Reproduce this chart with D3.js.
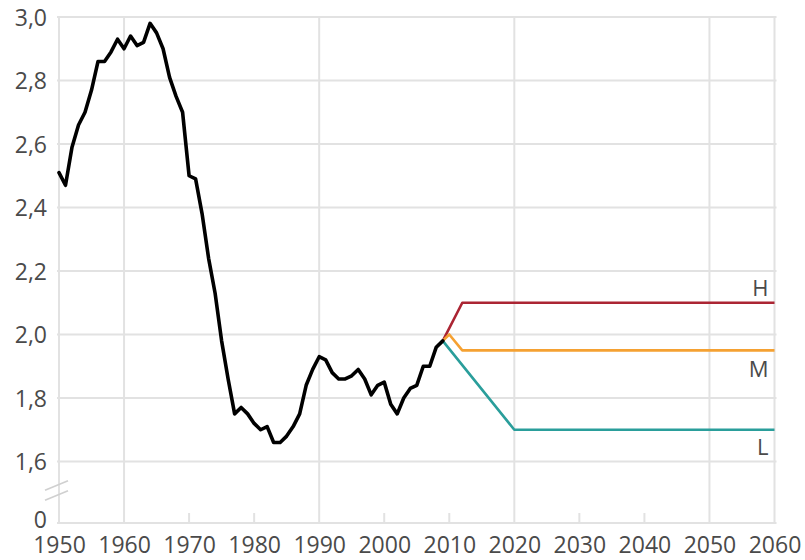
<!DOCTYPE html>
<html>
<head>
<meta charset="utf-8">
<script src="https://cdn.jsdelivr.net/npm/d3@7"></script>
<style>
  html, body { margin: 0; padding: 0; background: #fff; }
  svg { display: block; }
  .tick text { font-family: "Open Sans", sans-serif; fill: #4a4a4a; }
</style>
</head>
<body>
<div id="chart"></div>
<script>
// Fertility rate, history and projections (H / M / L)
var histYears = [1950, 1951, 1952, 1953, 1954, 1955, 1956, 1957, 1958, 1959,
                 1960, 1961, 1962, 1963, 1964, 1965, 1966, 1967, 1968, 1969,
                 1970, 1971, 1972, 1973, 1974, 1975, 1976, 1977, 1978, 1979,
                 1980, 1981, 1982, 1983, 1984, 1985, 1986, 1987, 1988, 1989,
                 1990, 1991, 1992, 1993, 1994, 1995, 1996, 1997, 1998, 1999,
                 2000, 2001, 2002, 2003, 2004, 2005, 2006, 2007, 2008, 2009];
var histValues = [2.51, 2.47, 2.59, 2.66, 2.70, 2.77, 2.86, 2.86, 2.89, 2.93,
                  2.90, 2.94, 2.91, 2.92, 2.98, 2.95, 2.90, 2.81, 2.75, 2.70,
                  2.50, 2.49, 2.38, 2.24, 2.13, 1.98, 1.86, 1.75, 1.77, 1.75,
                  1.72, 1.70, 1.71, 1.66, 1.66, 1.68, 1.71, 1.75, 1.84, 1.89,
                  1.93, 1.92, 1.88, 1.86, 1.86, 1.87, 1.89, 1.86, 1.81, 1.84,
                  1.85, 1.78, 1.75, 1.80, 1.83, 1.84, 1.90, 1.90, 1.96, 1.98];

var highYears = [2009, 2012, 2060];
var highValues = [1.98, 2.10, 2.10];
var midYears = [2009, 2010, 2012, 2060];
var midValues = [1.98, 2.00, 1.95, 1.95];
var lowYears = [2009, 2020, 2060];
var lowValues = [1.98, 1.70, 1.70];

var seriesNames = ['H', 'M', 'L'];
var seriesColors = ['#ab2533', '#f5a132', '#2a9e9b'];

var xTickYears = [1950, 1960, 1970, 1980, 1990, 2000, 2010, 2020, 2030, 2040, 2050, 2060];
var xGridYears = [1950, 1960, 1990, 2020, 2050, 2060];
var yTickValues = [0, 1.6, 1.8, 2.0, 2.2, 2.4, 2.6, 2.8, 3.0];
var yGridValues = [1.6, 1.8, 2.0, 2.2, 2.4, 2.6, 2.8, 3.0];

(function() {
  'use strict';

  var width = 805, height = 560;
  var gridColor = '#e2e2e2';

  var svg = d3.select('#chart').append('svg')
    .attr('width', width)
    .attr('height', height);

  var x = d3.scaleLinear().domain([1950, 2060]).range([59, 774.5]);
  // broken axis: 0 sits just below 1.6
  var y = d3.scaleLinear().domain([0, 1.6, 3.0]).range([523, 461.5, 17]);

  var nb = d3.formatLocale({ decimal: ',', thousands: ' ', grouping: [3], currency: ['', ''] });
  var fmt = nb.format('.1f');

  // horizontal grid
  svg.append('g')
    .selectAll('line')
    .data(yGridValues)
    .join('line')
    .attr('x1', x(1950) - 2).attr('x2', x(2060) + 2)
    .attr('y1', function(d) { return y(d); })
    .attr('y2', function(d) { return y(d); })
    .style('stroke', gridColor)
    .style('stroke-width', 2);

  // vertical grid (full height)
  svg.append('g')
    .selectAll('line')
    .data(xGridYears)
    .join('line')
    .attr('x1', function(d) { return x(d); })
    .attr('x2', function(d) { return x(d); })
    .attr('y1', y(3.0))
    .attr('y2', y(0))
    .style('stroke', gridColor)
    .style('stroke-width', 2);

  // bottom line
  svg.append('line')
    .attr('x1', x(1950) - 2).attr('x2', x(2060) + 2)
    .attr('y1', y(0)).attr('y2', y(0))
    .style('stroke', gridColor)
    .style('stroke-width', 2);

  // small decade ticks on the bottom
  svg.append('g')
    .selectAll('line')
    .data(xTickYears.filter(function(d) { return xGridYears.indexOf(d) < 0; }))
    .join('line')
    .attr('x1', function(d) { return x(d); })
    .attr('x2', function(d) { return x(d); })
    .attr('y1', y(0) - 10)
    .attr('y2', y(0))
    .style('stroke', gridColor)
    .style('stroke-width', 2);

  // axis break marks
  var breakY = (y(0) + y(1.6)) / 2 - 2;
  svg.append('g')
    .selectAll('line')
    .data([-5, 5])
    .join('line')
    .attr('x1', x(1950) - 14).attr('x2', x(1950) + 9)
    .attr('y1', function(d) { return breakY + d + 5; })
    .attr('y2', function(d) { return breakY + d - 4.5; })
    .style('stroke', '#d0d0d0')
    .style('stroke-width', 1.6);

  // axes labels
  var xAxis = d3.axisBottom(x)
    .tickValues(xTickYears)
    .tickFormat(d3.format('d'))
    .tickSize(0)
    .tickPadding(14);

  svg.append('g')
    .attr('transform', 'translate(0,' + y(0) + ')')
    .call(xAxis)
    .call(function(g) { g.select('.domain').remove(); })
    .selectAll('text')
    .style('font-size', '23px');

  var yAxis = d3.axisLeft(y)
    .tickValues(yTickValues)
    .tickFormat(function(d) { return d === 0 ? '0' : fmt(d); })
    .tickSize(0)
    .tickPadding(12);

  svg.append('g')
    .attr('transform', 'translate(' + x(1950) + ',0)')
    .call(yAxis)
    .call(function(g) { g.select('.domain').remove(); })
    .selectAll('text')
    .attr('dy', function(d) { return d === 0 ? '0.2em' : '0.36em'; })
    .style('font-size', '23px');

  var line = d3.line()
    .x(function(d) { return x(d[0]); })
    .y(function(d) { return y(d[1]); });

  // projections
  var projections = [
    d3.zip(highYears, highValues),
    d3.zip(midYears, midValues),
    d3.zip(lowYears, lowValues)
  ];

  svg.append('g')
    .selectAll('path')
    .data(projections)
    .join('path')
    .attr('d', line)
    .style('fill', 'none')
    .style('stroke', function(d, i) { return seriesColors[i]; })
    .style('stroke-width', 2.6)
    .style('stroke-linejoin', 'round');

  // history
  svg.append('path')
    .datum(d3.zip(histYears, histValues))
    .attr('d', line)
    .style('fill', 'none')
    .style('stroke', '#000')
    .style('stroke-width', 3.6)
    .style('stroke-linejoin', 'round')
    .style('stroke-linecap', 'round');

  // series labels
  var labelOffsets = [-15, 19, 17];
  var labelVals = [highValues[highValues.length - 1], midValues[midValues.length - 1], lowValues[lowValues.length - 1]];
  svg.append('g')
    .selectAll('text')
    .data(seriesNames)
    .join('text')
    .attr('x', x(2060) - 6)
    .attr('y', function(d, i) { return y(labelVals[i]) + labelOffsets[i]; })
    .attr('dy', '0.36em')
    .attr('text-anchor', 'end')
    .style('font-family', '"Open Sans", sans-serif')
    .style('font-size', '22px')
    .style('fill', '#4a4a4a')
    .text(function(d) { return d; });
})();
</script>
</body>
</html>
